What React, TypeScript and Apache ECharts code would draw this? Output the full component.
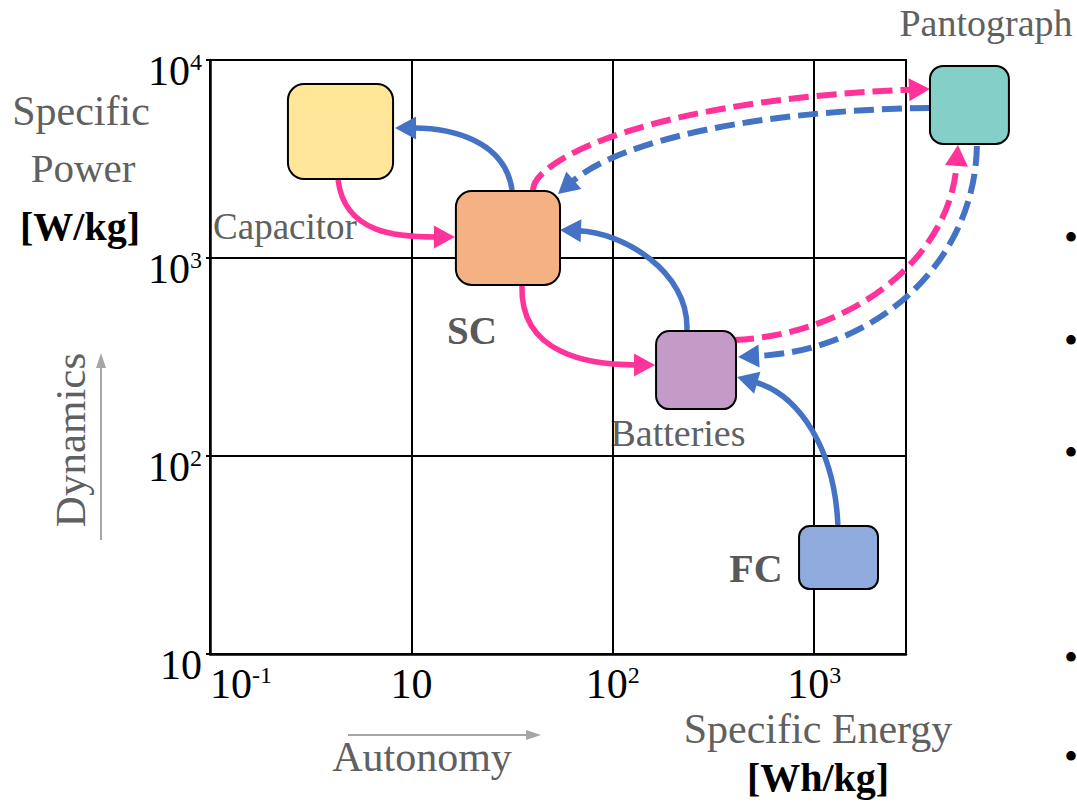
import React, { useEffect, useRef } from 'react';
import * as echarts from 'echarts';

// Axis tick labels (decade index -> base & exponent)
const X_TICK_BASE = ['10', '10', '10', '10'];
const X_TICK_EXP = ['-1', '', '2', '3'];
const Y_TICK_BASE = ['10', '10', '10', '10'];
const Y_TICK_EXP = ['', '2', '3', '4'];

// Storage boxes, in decade units along each axis
const BOX_NAMES = ['Capacitor', 'SC', 'Batteries', 'FC', 'Pantograph'];
const BOX_X0 = [0.387, 1.221, 2.215, 2.925, 3.575];
const BOX_X1 = [0.909, 1.738, 2.612, 3.317, 3.967];
const BOX_Y0 = [2.399, 1.864, 1.237, 0.328, 2.576];
const BOX_Y1 = [2.879, 2.338, 1.631, 0.646, 2.970];
const BOX_COLORS = ['#FFE699', '#F4B183', '#C39BC6', '#8FAADC', '#84D0C9'];

// Energy-flow arrows: start, control 1, control 2, tip (decade units)
const ARROW_FROM = ['SC', 'Capacitor', 'SC', 'Batteries', 'FC', 'SC', 'Pantograph', 'Batteries', 'Pantograph'];
const ARROW_TO = ['Capacitor', 'SC', 'Batteries', 'SC', 'Batteries', 'Pantograph', 'SC', 'Pantograph', 'Batteries'];
const ARROW_PATHS = [
  [[1.5, 2.343], [1.465, 2.596], [1.192, 2.657], [0.919, 2.657]],
  [[0.636, 2.394], [0.67, 2.116], [0.943, 2.106], [1.216, 2.106]],
  [[1.549, 1.859], [1.539, 1.51], [1.887, 1.46], [2.21, 1.46]],
  [[2.368, 1.631], [2.383, 1.939], [2.036, 2.131], [1.738, 2.141]],
  [[3.118, 0.646], [3.103, 1.03], [2.929, 1.308], [2.617, 1.399]],
  [[1.604, 2.343], [1.604, 2.495], [2.185, 2.798], [3.575, 2.854]],
  [[3.575, 2.758], [2.731, 2.747], [2.036, 2.596], [1.728, 2.323]],
  [[2.602, 1.586], [3.178, 1.611], [3.674, 1.99], [3.714, 2.571]],
  [[3.808, 2.566], [3.798, 1.99], [3.327, 1.535], [2.622, 1.5]],
];
const ARROW_COLORS = ['#4472C4', '#FF3399', '#FF3399', '#4472C4', '#4472C4', '#FF3399', '#4472C4', '#FF3399', '#4472C4'];
const ARROW_DASHED = [false, false, false, false, false, true, true, true, true];

const SERIF = "'Liberation Serif', 'Times New Roman', serif";
const GRAY = '#606060';
const BULLET_Y = [237, 340, 452, 657, 756];

export default function App() {
  const ref = useRef<HTMLDivElement>(null);

  useEffect(() => {
    if (!ref.current) return;
    const chart = echarts.init(ref.current, null, { renderer: 'svg' });

    const tickRich = {
      b: { fontSize: 42, fontFamily: SERIF, color: '#000', lineHeight: 42 },
      s: { fontSize: 24, fontFamily: SERIF, color: '#000', lineHeight: 24, verticalAlign: 'top' },
    };
    const fmt = (bases: string[], exps: string[]) => (v: number) => {
      const i = Math.round(v);
      if (Math.abs(v - i) > 1e-6 || i < 0 || i >= bases.length) return '';
      return exps[i] ? `{b|${bases[i]}}{s|${exps[i]}}` : `{b|${bases[i]}}`;
    };

    const text = (t: string, x: number, y: number, size: number, opts: any = {}) => ({
      type: 'text',
      x,
      y,
      rotation: opts.rotation || 0,
      style: {
        text: t,
        fontSize: size,
        lineHeight: Math.round(size * 0.8),
        fontFamily: SERIF,
        fontWeight: opts.bold ? 'bold' : 'normal',
        fill: opts.color || GRAY,
        align: opts.align || 'center',
        verticalAlign: 'middle',
      },
    });

    const option: any = {
      animation: false,
      grid: {
        left: 210,
        right: 171,
        top: 60,
        bottom: 149,
        show: true,
        borderColor: '#000',
        borderWidth: 2,
        containLabel: false,
      },
      xAxis: {
        type: 'value',
        min: 0,
        max: 3.456,
        interval: 1,
        axisLine: { show: true, lineStyle: { color: '#000', width: 2.5 } },
        axisTick: { show: false },
        splitLine: { show: true, lineStyle: { color: '#000', width: 2 } },
        axisLabel: {
          margin: 9,
          formatter: fmt(X_TICK_BASE, X_TICK_EXP),
          rich: tickRich,
          alignMinLabel: 'left',
        },
      },
      yAxis: {
        type: 'value',
        min: 0,
        max: 3,
        interval: 1,
        axisLine: { show: true, lineStyle: { color: '#000', width: 2.5 } },
        axisTick: { show: true, length: 4, lineStyle: { color: '#000', width: 2 } },
        splitLine: { show: true, lineStyle: { color: '#000', width: 2 } },
        axisLabel: {
          margin: 8,
          padding: [22, 0, 0, 0],
          formatter: fmt(Y_TICK_BASE, Y_TICK_EXP),
          rich: tickRich,
        },
      },
      series: [
        {
          type: 'custom',
          name: 'flows',
          clip: false,
          data: ARROW_PATHS.map((p, i) => ({
            name: ARROW_FROM[i] + ' → ' + ARROW_TO[i],
            value: [p[0][0], p[0][1], p[1][0], p[1][1], p[2][0], p[2][1], p[3][0], p[3][1]],
          })),
          renderItem: (params: any, api: any) => {
            const pts = [0, 1, 2, 3].map((k) => api.coord([api.value(2 * k), api.value(2 * k + 1)]));
            const [p0, p1, p2, p3] = pts;
            let dx = p3[0] - p2[0];
            let dy = p3[1] - p2[1];
            const len = Math.hypot(dx, dy) || 1;
            dx /= len;
            dy /= len;
            const L = 21;
            const W = 11.5;
            const bx = p3[0] - dx * L;
            const by = p3[1] - dy * L;
            const color = ARROW_COLORS[params.dataIndex];
            const dashed = ARROW_DASHED[params.dataIndex];
            return {
              type: 'group',
              children: [
                {
                  type: 'bezierCurve',
                  shape: {
                    x1: p0[0], y1: p0[1],
                    cpx1: p1[0], cpy1: p1[1],
                    cpx2: p2[0], cpy2: p2[1],
                    x2: bx + dx * 2, y2: by + dy * 2,
                  },
                  style: {
                    stroke: color,
                    fill: 'none',
                    lineWidth: dashed ? 6 : 5.5,
                    lineDash: dashed ? [20, 8] : null,
                  },
                },
                {
                  type: 'polygon',
                  shape: {
                    points: [
                      [p3[0], p3[1]],
                      [bx - dy * W, by + dx * W],
                      [bx + dy * W, by - dx * W],
                    ],
                  },
                  style: { fill: color },
                },
              ],
            };
          },
          z: 3,
        },
        {
          type: 'custom',
          name: 'sources',
          clip: false,
          data: BOX_NAMES.map((n, i) => ({
            name: n,
            value: [BOX_X0[i], BOX_Y0[i], BOX_X1[i], BOX_Y1[i]],
          })),
          renderItem: (params: any, api: any) => {
            const tl = api.coord([api.value(0), api.value(3)]);
            const br = api.coord([api.value(2), api.value(1)]);
            const w = br[0] - tl[0];
            const h = br[1] - tl[1];
            return {
              type: 'rect',
              shape: { x: tl[0], y: tl[1], width: w, height: h, r: Math.min(w, h) * 0.17 },
              style: { fill: BOX_COLORS[params.dataIndex], stroke: '#000', lineWidth: 2 },
            };
          },
          z: 4,
        },
      ],
      graphic: [
        text('Specific', 81, 111, 42),
        text('Power', 83, 168, 41),
        text('[W/kg]', 80, 226, 40, { bold: true, color: '#000' }),
        text('Dynamics', 70, 440, 43, { rotation: Math.PI / 2 }),
        { type: 'line', shape: { x1: 101, y1: 540, x2: 101, y2: 366 }, style: { stroke: '#A6A6A6', lineWidth: 2 } },
        { type: 'polygon', shape: { points: [[101, 353], [96, 368], [106, 368]] }, style: { fill: '#A6A6A6' } },
        text('Autonomy', 422, 757, 42),
        { type: 'line', shape: { x1: 348, y1: 735, x2: 528, y2: 735 }, style: { stroke: '#A6A6A6', lineWidth: 2 } },
        { type: 'polygon', shape: { points: [[541, 735], [526, 730], [526, 740]] }, style: { fill: '#A6A6A6' } },
        text('Specific Energy', 818, 729, 42),
        text('[Wh/kg]', 818, 777, 40, { bold: true, color: '#000' }),
        text('Pantograph', 986, 23, 38),
        text('Capacitor', 285, 226, 37),
        text('SC', 472, 330, 39, { bold: true, color: '#595959' }),
        text('Batteries', 678, 433, 38),
        text('FC', 756, 568, 40, { bold: true, color: '#595959' }),
        ...BULLET_Y.map((y) => text('•', 1064, y, 40, { color: '#000', align: 'left' })),
      ],
    };

    chart.setOption(option);
    return () => chart.dispose();
  }, []);

  return (
    <div
      ref={ref}
      style={{ position: 'fixed', left: 0, top: 0, width: 1077, height: 803, background: '#fff' }}
    />
  );
}
